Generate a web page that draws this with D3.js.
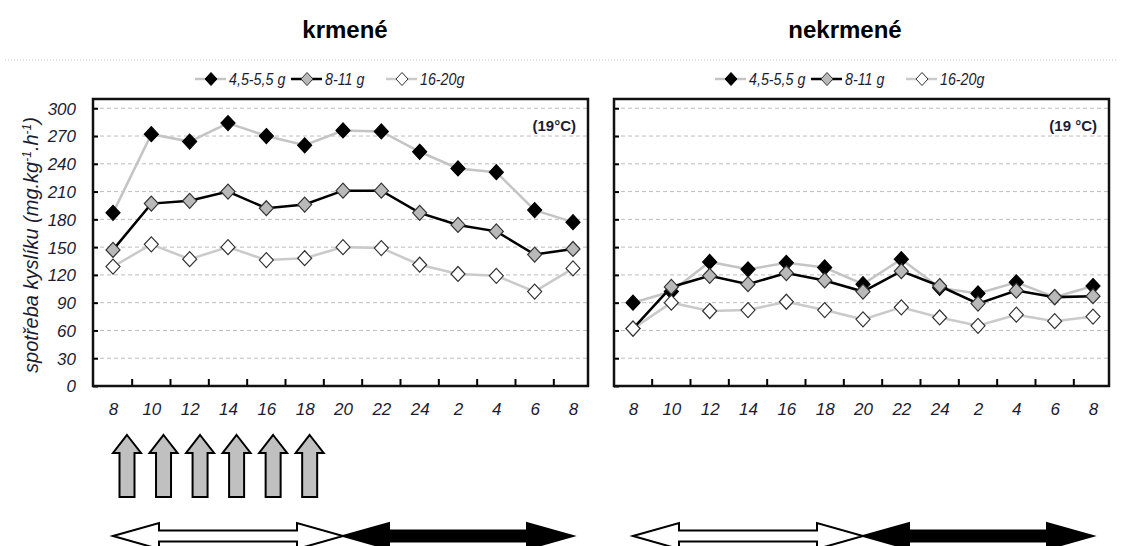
<!DOCTYPE html>
<html>
<head>
<meta charset="utf-8">
<script src="https://cdn.jsdelivr.net/npm/d3@7"></script>
<style>
  body { margin: 0; background: #fff; }
  svg { display: block; }
  .lbl { font-family: "Liberation Sans", Arial, sans-serif; font-style: italic; fill: #1c1c30; }
</style>
</head>
<body>
<script>
var svg_width  = 1123;
var svg_height = 546;

// hours of the day on the x axis
var hours = ["8", "10", "12", "14", "16", "18", "20", "22", "24", "2", "4", "6", "8"];
var yTicks = [0, 30, 60, 90, 120, 150, 180, 210, 240, 270, 300];
var seriesNames = ["4,5-5,5 g", "8-11 g", "16-20g"];
var panelTitles = ["krmené", "nekrmené"];

// krmené (fed)
var fedSmall  = [187, 272, 264, 284, 270, 260, 276, 275, 253, 235, 231, 190, 177];
var fedMedium = [147, 197, 200, 210, 192, 196, 211, 211, 187, 174, 167, 142, 148];
var fedLarge  = [129, 153, 137, 150, 136, 138, 150, 149, 131, 121, 119, 102, 127];

// nekrmené (unfed)
var unfedSmall  = [90, 102, 134, 126, 133, 128, 110, 137, 106, 100, 112, 96, 108];
var unfedMedium = [62, 107, 119, 110, 122, 114, 102, 124, 108, 89, 103, 96, 97];
var unfedLarge  = [62, 90, 81, 82, 91, 82, 72, 85, 74, 65, 77, 70, 75];

// feeding times (arrows under the fed panel)
var feedHours = [8, 10, 12, 14, 16, 18];

var svg = d3.select('body').append('svg')
            .attr('width', svg_width)
            .attr('height', svg_height);

// marker / line styles per series
var styles = [
  {fill: "#000", stroke: "#000", line: "#c4c4c4"},
  {fill: "#b9b9b9", stroke: "#333", line: "#000"},
  {fill: "#fff", stroke: "#333", line: "#cacaca"}
];

function diamond(w, h) {
  return "M0," + (-h) + "L" + w + ",0L0," + h + "L" + (-w) + ",0Z";
}

// separator line under titles
svg.append("line")
   .attr("x1", 5).attr("x2", 1118)
   .attr("y1", 60).attr("y2", 60)
   .attr("stroke", "#c8c8c8")
   .attr("stroke-dasharray", "1,2");

var panels = [
  {left: 93,  right: 588,  x0: 113, x1: 573, titleX: 345, legendX: 195, note: "(19°C)",  data: [fedSmall, fedMedium, fedLarge], yLabels: true},
  {left: 614, right: 1109, x0: 633, x1: 1093, titleX: 845, legendX: 715, note: "(19 °C)", data: [unfedSmall, unfedMedium, unfedLarge], yLabels: false}
];

var plotTop = 99, plotBottom = 386;
var y = d3.scaleLinear().domain([0, 310]).range([plotBottom, plotTop]);

panels.forEach(function(p, pi) {
  var x = d3.scalePoint().domain(d3.range(hours.length)).range([p.x0, p.x1]);
  p.x = x;
  var step = x.step();
  var g = svg.append("g");

  // title
  g.append("text")
   .attr("x", p.titleX).attr("y", 38)
   .attr("text-anchor", "middle")
   .style("font-family", "'Liberation Sans', Arial, sans-serif")
   .style("font-weight", "bold")
   .style("font-size", "24px")
   .text(panelTitles[pi]);

  // legend
  var lx = p.legendX;
  var lg = g.append("g").attr("transform", "translate(0,79)");
  var legendWidths = [96, 95, 90];
  seriesNames.forEach(function(name, si) {
    var it = lg.append("g").attr("transform", "translate(" + lx + ",0)");
    it.append("line").attr("x1", 0).attr("x2", 31).attr("y1", 0).attr("y2", 0)
      .attr("stroke", styles[si].line).attr("stroke-width", 2.5);
    it.append("path").attr("d", diamond(6, 6.5)).attr("transform", "translate(16,0)")
      .attr("fill", styles[si].fill).attr("stroke", styles[si].stroke).attr("stroke-width", 1);
    it.append("text").attr("class", "lbl")
      .attr("transform", "translate(34,6) scale(0.84,1)")
      .style("font-size", "17px").text(name);
    lx += legendWidths[si];
  });

  // gridlines
  g.append("g")
   .selectAll("line")
   .data(yTicks.filter(function(v) { return v > 0; }))
   .enter().append("line")
   .attr("x1", p.left).attr("x2", p.right)
   .attr("y1", function(d) { return y(d); }).attr("y2", function(d) { return y(d); })
   .attr("stroke", "#bdbdbd")
   .attr("stroke-dasharray", "4,3");

  // y axis: ticks inside, labels on the left panel only
  var yAxis = d3.axisLeft(y).tickValues(yTicks).tickSizeInner(-5).tickSizeOuter(0).tickPadding(17);
  var ya = g.append("g").attr("transform", "translate(" + p.left + ",0)").call(yAxis);
  ya.select(".domain").remove();
  ya.selectAll(".tick line").attr("stroke", "#000").attr("stroke-width", 2);
  ya.selectAll(".tick text").attr("class", "lbl").style("font-size", "17px").attr("dy", "0.35em")
    .style("display", p.yLabels ? null : "none");

  // bottom ticks between categories
  g.append("g")
   .selectAll("line")
   .data(d3.range(hours.length - 1))
   .enter().append("line")
   .attr("x1", function(i) { return x(i) + step / 2; })
   .attr("x2", function(i) { return x(i) + step / 2; })
   .attr("y1", plotBottom).attr("y2", plotBottom - 7)
   .attr("stroke", "#000").attr("stroke-width", 2);

  // x labels
  var xAxis = d3.axisBottom(x).tickSize(0).tickPadding(17).tickFormat(function(i) { return hours[i]; });
  var xa = g.append("g").attr("transform", "translate(0," + plotBottom + ")").call(xAxis);
  xa.select(".domain").remove();
  xa.selectAll(".tick text").attr("class", "lbl").style("font-size", "17px");

  // frame
  g.append("rect")
   .attr("x", p.left).attr("y", plotTop)
   .attr("width", p.right - p.left).attr("height", plotBottom - plotTop)
   .attr("fill", "none").attr("stroke", "#111").attr("stroke-width", 2.5);

  // temperature note
  g.append("text")
   .attr("x", p.right - 12).attr("y", 131)
   .attr("text-anchor", "end")
   .style("font-family", "'Liberation Sans', Arial, sans-serif")
   .style("font-weight", "bold")
   .style("font-size", "15px")
   .attr("fill", "#1c1c30")
   .text(p.note);

  var line = d3.line().x(function(d, i) { return x(i); }).y(function(d) { return y(d); });

  // lines: light ones first, black line on top
  [2, 0, 1].forEach(function(si) {
    g.append("path")
     .datum(p.data[si])
     .attr("d", line)
     .attr("fill", "none")
     .attr("stroke", styles[si].line)
     .attr("stroke-width", 2.5);
  });

  // markers
  p.data.forEach(function(vals, si) {
    g.append("g")
     .selectAll("path")
     .data(vals)
     .enter().append("path")
     .attr("d", diamond(7, 7.5))
     .attr("transform", function(d, i) { return "translate(" + x(i) + "," + y(d) + ")"; })
     .attr("fill", styles[si].fill)
     .attr("stroke", styles[si].stroke)
     .attr("stroke-width", 1.2);
  });

  // day / night double arrows
  var ay = 536;
  function dblArrow(xa, xb, fill) {
    var hl = 46, hh = 13, sh = 5.5;
    var d = "M" + xa + "," + ay +
            "L" + (xa + hl) + "," + (ay - hh) +
            "L" + (xa + hl) + "," + (ay - sh) +
            "L" + (xb - hl) + "," + (ay - sh) +
            "L" + (xb - hl) + "," + (ay - hh) +
            "L" + xb + "," + ay +
            "L" + (xb - hl) + "," + (ay + hh) +
            "L" + (xb - hl) + "," + (ay + sh) +
            "L" + (xa + hl) + "," + (ay + sh) +
            "L" + (xa + hl) + "," + (ay + hh) + "Z";
    g.append("path").attr("d", d).attr("fill", fill).attr("stroke", "#000").attr("stroke-width", 2);
  }
  dblArrow(x(0), x(6), "#fff");
  dblArrow(x(6), x(12), "#000");
});

// y axis title
var yt = svg.append("text")
  .attr("class", "lbl")
  .attr("transform", "translate(38,245) rotate(-90)")
  .attr("text-anchor", "middle")
  .style("font-size", "20px");
yt.append("tspan").text("spotřeba kyslíku (mg.kg");
yt.append("tspan").attr("dy", -7).style("font-size", "12px").text("-1");
yt.append("tspan").attr("dy", 7).text(".h");
yt.append("tspan").attr("dy", -7).style("font-size", "12px").text("-1");
yt.append("tspan").attr("dy", 7).text(")");

// feeding arrows
var xf = panels[0].x;
var feed = d3.scaleLinear().domain([8, 18]).range([xf(0) + 14, xf(5) + 5]);
var fTop = 435, fBot = 497;
svg.append("g")
   .selectAll("path")
   .data(feedHours)
   .enter().append("path")
   .attr("d", function(h) {
     var c = feed(h), sw = 7.5, hw = 14, hh = 18;
     return "M" + c + "," + fTop +
            "L" + (c + hw) + "," + (fTop + hh) +
            "L" + (c + sw) + "," + (fTop + hh) +
            "L" + (c + sw) + "," + fBot +
            "L" + (c - sw) + "," + fBot +
            "L" + (c - sw) + "," + (fTop + hh) +
            "L" + (c - hw) + "," + (fTop + hh) + "Z";
   })
   .attr("fill", "#c0c0c0")
   .attr("stroke", "#000")
   .attr("stroke-width", 2);
</script>
</body>
</html>
